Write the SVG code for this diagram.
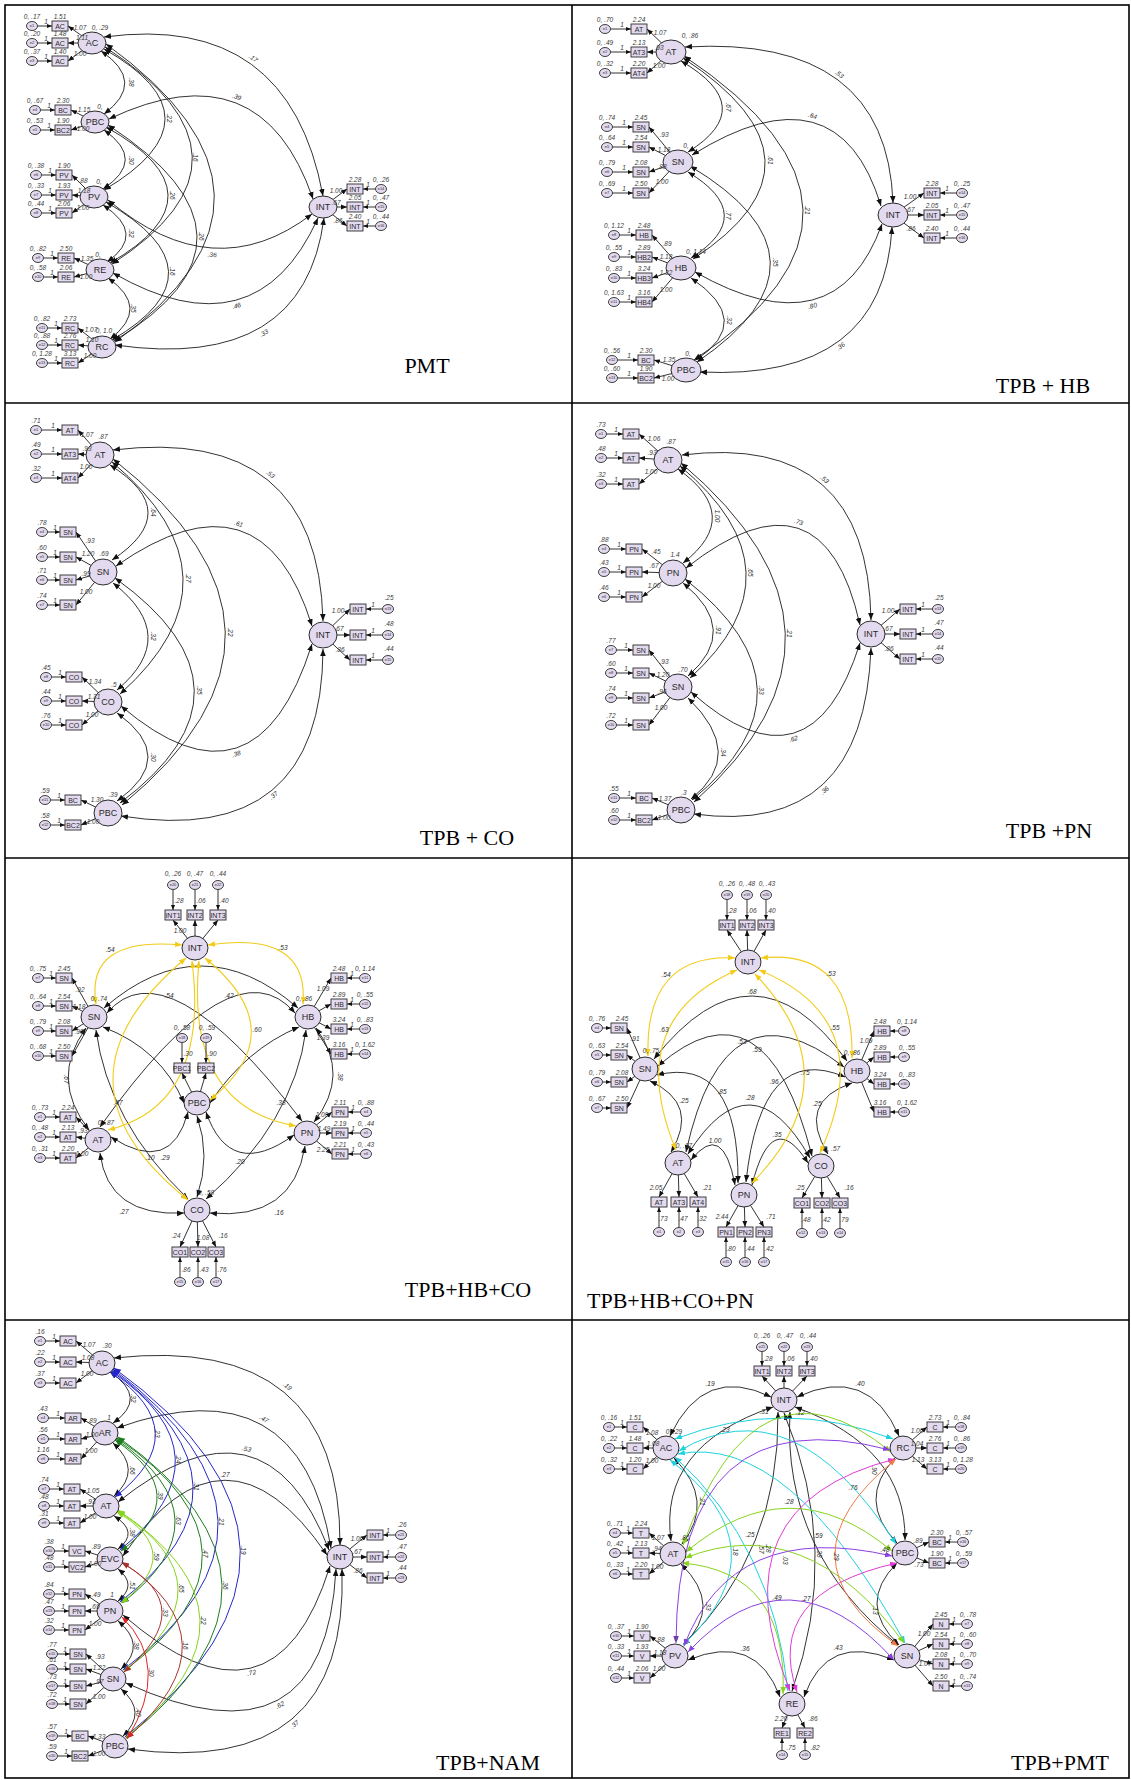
<svg xmlns="http://www.w3.org/2000/svg" width="1131" height="1780" viewBox="0 0 1131 1780">
<defs>
<style>
.f{fill:#e3daef;stroke:#2b2b2b;stroke-width:.9}
.lat{fill:#e3daef;stroke:#2b2b2b;stroke-width:1}
.k{fill:none;stroke:#1c1c1c;stroke-width:.9}
.fr{fill:none;stroke:#000;stroke-width:1.6}
.cy{fill:none;stroke:#f2cc18;stroke-width:1.1}
.cb{fill:none;stroke:#2626c8;stroke-width:1}
.cg{fill:none;stroke:#1e7d1e;stroke-width:1}
.cl{fill:none;stroke:#86d41c;stroke-width:1}
.cw{fill:none;stroke:#a8322e;stroke-width:1}
.cr{fill:none;stroke:#e02424;stroke-width:1}
.cc{fill:none;stroke:#1fd2e0;stroke-width:1}
.cp{fill:none;stroke:#8b3fe0;stroke-width:1}
.cm{fill:none;stroke:#e03ad8;stroke-width:1}
.co{fill:none;stroke:#f07a45;stroke-width:1}
text{font-family:"Liberation Sans",Arial,sans-serif;fill:#2a2a2a;text-anchor:middle}
.n{font-size:9px}
.o{font-size:7px}
.es{font-size:4px}
.v{font-size:6.5px;font-style:italic;fill:#3a3a3a}
.c{font-size:6.5px;font-style:italic;fill:#3a3a3a}
.t{font-family:"Liberation Serif","Times New Roman",serif;font-size:22px;fill:#000}
</style>
<marker id="m" viewBox="0 0 10 10" refX="10" refY="5" markerWidth="7" markerHeight="7" markerUnits="userSpaceOnUse" orient="auto-start-reverse"><path d="M0,1L10,5L0,9z" fill="#111"/></marker>
<marker id="a" viewBox="0 0 10 10" refX="10" refY="5" markerWidth="6" markerHeight="6" markerUnits="userSpaceOnUse" orient="auto-start-reverse"><path d="M0,1L10,5L0,9z" fill="#111"/></marker>
<marker id="s" viewBox="0 0 10 10" refX="10" refY="5" markerWidth="5" markerHeight="5" markerUnits="userSpaceOnUse" orient="auto-start-reverse"><path d="M0,1L10,5L0,9z" fill="#111"/></marker>
<marker id="my" viewBox="0 0 10 10" refX="10" refY="5" markerWidth="7" markerHeight="7" markerUnits="userSpaceOnUse" orient="auto-start-reverse"><path d="M0,1L10,5L0,9z" fill="#f2cc18"/></marker>
<marker id="mb" viewBox="0 0 10 10" refX="10" refY="5" markerWidth="7" markerHeight="7" markerUnits="userSpaceOnUse" orient="auto-start-reverse"><path d="M0,1L10,5L0,9z" fill="#2626c8"/></marker>
<marker id="mg" viewBox="0 0 10 10" refX="10" refY="5" markerWidth="7" markerHeight="7" markerUnits="userSpaceOnUse" orient="auto-start-reverse"><path d="M0,1L10,5L0,9z" fill="#1e7d1e"/></marker>
<marker id="ml" viewBox="0 0 10 10" refX="10" refY="5" markerWidth="7" markerHeight="7" markerUnits="userSpaceOnUse" orient="auto-start-reverse"><path d="M0,1L10,5L0,9z" fill="#86d41c"/></marker>
<marker id="mw" viewBox="0 0 10 10" refX="10" refY="5" markerWidth="7" markerHeight="7" markerUnits="userSpaceOnUse" orient="auto-start-reverse"><path d="M0,1L10,5L0,9z" fill="#a8322e"/></marker>
<marker id="mr" viewBox="0 0 10 10" refX="10" refY="5" markerWidth="7" markerHeight="7" markerUnits="userSpaceOnUse" orient="auto-start-reverse"><path d="M0,1L10,5L0,9z" fill="#e02424"/></marker>
<marker id="mc" viewBox="0 0 10 10" refX="10" refY="5" markerWidth="7" markerHeight="7" markerUnits="userSpaceOnUse" orient="auto-start-reverse"><path d="M0,1L10,5L0,9z" fill="#1fd2e0"/></marker>
<marker id="mp" viewBox="0 0 10 10" refX="10" refY="5" markerWidth="7" markerHeight="7" markerUnits="userSpaceOnUse" orient="auto-start-reverse"><path d="M0,1L10,5L0,9z" fill="#8b3fe0"/></marker>
<marker id="mm" viewBox="0 0 10 10" refX="10" refY="5" markerWidth="7" markerHeight="7" markerUnits="userSpaceOnUse" orient="auto-start-reverse"><path d="M0,1L10,5L0,9z" fill="#e03ad8"/></marker>
<marker id="mo" viewBox="0 0 10 10" refX="10" refY="5" markerWidth="7" markerHeight="7" markerUnits="userSpaceOnUse" orient="auto-start-reverse"><path d="M0,1L10,5L0,9z" fill="#f07a45"/></marker>
<g id="L22"><path class="k" d="M-16.5,0H-8" marker-end="url(#s)"/><ellipse class="f" cx="-22" cy="0" rx="5.5" ry="4.5"/><rect class="f" x="-8" y="-5" width="16" height="10"/></g>
<g id="L26"><path class="k" d="M-20.5,0H-8" marker-end="url(#s)"/><ellipse class="f" cx="-26" cy="0" rx="5.5" ry="4.5"/><rect class="f" x="-8" y="-5" width="16" height="10"/></g>
<g id="L28"><path class="k" d="M-22.5,0H-8" marker-end="url(#s)"/><ellipse class="f" cx="-28" cy="0" rx="5.5" ry="4.5"/><rect class="f" x="-8" y="-5" width="16" height="10"/></g>
<g id="L30"><path class="k" d="M-24.5,0H-8" marker-end="url(#s)"/><ellipse class="f" cx="-30" cy="0" rx="5.5" ry="4.5"/><rect class="f" x="-8" y="-5" width="16" height="10"/></g>
<g id="L34"><path class="k" d="M-28.5,0H-8" marker-end="url(#s)"/><ellipse class="f" cx="-34" cy="0" rx="5.5" ry="4.5"/><rect class="f" x="-8" y="-5" width="16" height="10"/></g>
<g id="R22"><path class="k" d="M16.5,0H8" marker-end="url(#s)"/><ellipse class="f" cx="22" cy="0" rx="5.5" ry="4.5"/><rect class="f" x="-8" y="-5" width="16" height="10"/></g>
<g id="R26"><path class="k" d="M20.5,0H8" marker-end="url(#s)"/><ellipse class="f" cx="26" cy="0" rx="5.5" ry="4.5"/><rect class="f" x="-8" y="-5" width="16" height="10"/></g>
<g id="R30"><path class="k" d="M24.5,0H8" marker-end="url(#s)"/><ellipse class="f" cx="30" cy="0" rx="5.5" ry="4.5"/><rect class="f" x="-8" y="-5" width="16" height="10"/></g>
<g id="U24"><path class="k" d="M0,-19.5V-5" marker-end="url(#s)"/><ellipse class="f" cx="0" cy="-24" rx="5.5" ry="4.5"/><rect class="f" x="-8" y="-5" width="16" height="10"/></g>
<g id="U30"><path class="k" d="M0,-25.5V-5" marker-end="url(#s)"/><ellipse class="f" cx="0" cy="-30" rx="5.5" ry="4.5"/><rect class="f" x="-8" y="-5" width="16" height="10"/></g>
<g id="D22"><path class="k" d="M0,17.5V5" marker-end="url(#s)"/><ellipse class="f" cx="0" cy="22" rx="5.5" ry="4.5"/><rect class="f" x="-8" y="-5" width="16" height="10"/></g>
<g id="D30"><path class="k" d="M0,25.5V5" marker-end="url(#s)"/><ellipse class="f" cx="0" cy="30" rx="5.5" ry="4.5"/><rect class="f" x="-8" y="-5" width="16" height="10"/></g>
</defs>
<rect width="1131" height="1780" fill="#fff"/>
<g id="frame">
<rect class="fr" x="5" y="5" width="1124" height="1773"/>
<path class="fr" d="M572,5V1778M5,403H1129M5,858H1129M5,1320H1129"/>
</g>

<!-- ============ CONNECTORS ============ -->
<g id="connectors">
<!-- P1 PMT -->
<g class="k" marker-end="url(#a)">
<path d="M92,43L68,26"/><path d="M92,43L68,43"/><path d="M92,43L68,61"/>
<path d="M95,122L71,110"/><path d="M95,122L71,130"/>
<path d="M94,197L72,175"/><path d="M94,197L72,195"/><path d="M94,197L72,213"/>
<path d="M100,270L74,258"/><path d="M100,270L74,277"/>
<path d="M102,347L78,328"/><path d="M102,347L78,345"/><path d="M102,347L78,363"/>
<path d="M323,207L347,189"/><path d="M323,207L347,207"/><path d="M323,207L347,226"/>
</g>
<g class="k" marker-start="url(#m)" marker-end="url(#m)">
<path d="M101,51Q147,82 104,114"/><path d="M104,130Q147,160 103,189"/><path d="M103,205Q147,234 107,262"/><path d="M108,278Q151,308 110,339"/>
<path d="M104,49Q226,118 104,190"/><path d="M106,127Q228,195 110,263"/><path d="M106,202Q228,272 112,340"/>
<path d="M105,47Q276,158 112,264"/><path d="M108,125Q283,239 114,341"/><path d="M106,44Q318,197 115,342"/>
<path d="M104,37Q289,12 323,196"/><path d="M109,119Q261,47 313,199"/><path d="M108,200Q214,289 312,214"/><path d="M113,273Q256,355 318,218"/><path d="M115,345Q304,372 324,218"/>
</g>
<g class="c">
<text transform="translate(129,82)rotate(90)">.38</text><text transform="translate(129,160)rotate(90)">.30</text><text transform="translate(129,233)rotate(90)">.32</text><text transform="translate(131,308)rotate(90)">.35</text>
<text transform="translate(167,118)rotate(90)">.22</text><text transform="translate(170,195)rotate(90)">.26</text><text transform="translate(170,271)rotate(90)">.16</text>
<text transform="translate(193,157)rotate(90)">.16</text><text transform="translate(199,236)rotate(90)">.26</text>
<text transform="translate(252,60)rotate(36)">.17</text><text transform="translate(236,99)rotate(21)">.39</text><text transform="translate(212,257)rotate(4)">.36</text><text transform="translate(237,308)rotate(-15)">.46</text><text transform="translate(265,335)rotate(-31)">.33</text>
</g>

<!-- P2 TPB+HB -->
<g class="k" marker-end="url(#a)">
<path d="M671,52L647,29"/><path d="M671,52L647,52"/><path d="M671,52L647,73"/>
<path d="M678,162L649,127"/><path d="M678,162L649,147"/><path d="M678,162L649,172"/><path d="M678,162L649,193"/>
<path d="M681,268L652,235"/><path d="M681,268L652,257"/><path d="M681,268L652,278"/><path d="M681,268L652,302"/>
<path d="M686,370L654,360"/><path d="M686,370L654,378"/>
<path d="M893,215L924,193"/><path d="M893,215L924,215"/><path d="M893,215L924,238"/>
</g>
<g class="k" marker-start="url(#m)" marker-end="url(#m)">
<path d="M681,61Q760,107 688,152"/><path d="M688,172Q759,215 691,258"/><path d="M691,278Q755,321 696,360"/>
<path d="M683,58Q842,162 693,259"/><path d="M690,166Q847,260 697,362"/><path d="M684,56Q917,212 694,360"/>
<path d="M685,47Q887,35 893,203"/><path d="M692,155Q838,64 881,206"/><path d="M695,272Q836,352 882,224"/><path d="M700,372Q884,381 892,227"/>
</g>
<g class="c">
<text transform="translate(726,107)rotate(90)">.67</text><text transform="translate(726,215)rotate(90)">.77</text><text transform="translate(727,320)rotate(90)">.32</text>
<text transform="translate(768,160)rotate(90)">.61</text><text transform="translate(773,262)rotate(90)">.35</text><text transform="translate(805,210)rotate(90)">.21</text>
<text transform="translate(838,76)rotate(37)">.53</text><text transform="translate(812,118)rotate(15)">.64</text><text transform="translate(813,308)rotate(-14)">.80</text><text transform="translate(842,348)rotate(-37)">.36</text>
</g>

<!-- P3 TPB+CO -->
<g class="k" marker-end="url(#a)">
<path d="M100,455L78,430"/><path d="M100,455L78,454"/><path d="M100,455L78,478"/>
<path d="M103,572L76,532"/><path d="M103,572L76,557"/><path d="M103,572L76,580"/><path d="M103,572L76,605"/>
<path d="M108,702L82,677"/><path d="M108,702L82,701"/><path d="M108,702L82,725"/>
<path d="M108,813L81,800"/><path d="M108,813L81,825"/>
<path d="M323,635L350,609"/><path d="M323,635L350,635"/><path d="M323,635L350,660"/>
</g>
<g class="k" marker-start="url(#m)" marker-end="url(#m)">
<path d="M110,465Q185,512 112,560"/><path d="M113,583Q181,636 117,690"/><path d="M117,713Q179,757 117,801"/>
<path d="M112,462Q250,578 120,694"/><path d="M115,578Q271,690 120,803"/><path d="M113,459Q333,632 122,805"/>
<path d="M113,450Q318,425 323,621"/><path d="M116,566Q262,464 312,626"/><path d="M121,706Q256,821 312,644"/><path d="M121,816Q322,848 323,649"/>
</g>
<g class="c">
<text transform="translate(151,512)rotate(90)">.64</text><text transform="translate(151,636)rotate(90)">.32</text><text transform="translate(151,757)rotate(90)">.30</text>
<text transform="translate(186,578)rotate(90)">.27</text><text transform="translate(197,690)rotate(90)">.35</text><text transform="translate(228,632)rotate(90)">.22</text>
<text transform="translate(269,476)rotate(39)">.53</text><text transform="translate(238,526)rotate(17)">.61</text><text transform="translate(237,756)rotate(-18)">.38</text><text transform="translate(275,797)rotate(-40)">.37</text>
</g>

<!-- P4 TPB+PN -->
<g class="k" marker-end="url(#a)">
<path d="M668,460L639,434"/><path d="M668,460L639,458"/><path d="M668,460L639,484"/>
<path d="M673,573L642,549"/><path d="M673,573L642,572"/><path d="M673,573L642,597"/>
<path d="M678,687L649,650"/><path d="M678,687L649,673"/><path d="M678,687L649,698"/><path d="M678,687L649,725"/>
<path d="M681,810L652,798"/><path d="M681,810L652,820"/>
<path d="M871,634L900,609"/><path d="M871,634L900,634"/><path d="M871,634L900,659"/>
</g>
<g class="k" marker-start="url(#m)" marker-end="url(#m)">
<path d="M678,469Q744,516 683,563"/><path d="M683,583Q741,630 688,676"/><path d="M688,698Q747,755 691,799"/>
<path d="M680,466Q807,572 690,678"/><path d="M685,579Q826,690 692,800"/><path d="M681,463Q883,634 694,802"/>
<path d="M682,455Q868,432 871,620"/><path d="M686,568Q823,460 860,625"/><path d="M691,692Q811,799 860,643"/><path d="M694,814Q864,837 871,648"/>
</g>
<g class="c">
<text transform="translate(715,516)rotate(90)">1.00</text><text transform="translate(716,630)rotate(90)">.91</text><text transform="translate(721,752)rotate(90)">.34</text>
<text transform="translate(748,572)rotate(90)">.65</text><text transform="translate(759,690)rotate(90)">.33</text><text transform="translate(787,633)rotate(90)">.21</text>
<text transform="translate(823,481)rotate(41)">.53</text><text transform="translate(798,524)rotate(18)">.73</text><text transform="translate(794,741)rotate(-16)">.62</text><text transform="translate(826,792)rotate(-43)">.36</text>
</g>

<!-- P5 TPB+HB+CO -->
<g class="k" marker-end="url(#a)">
<path d="M195,948L173,920"/><path d="M195,948L195,920"/><path d="M195,948L218,920"/>
<path d="M94,1017L72,978"/><path d="M94,1017L72,1006"/><path d="M94,1017L72,1031"/><path d="M94,1017L72,1056"/>
<path d="M308,1017L331,978"/><path d="M308,1017L331,1004"/><path d="M308,1017L331,1029"/><path d="M308,1017L331,1054"/>
<path d="M197,1103L182,1073"/><path d="M197,1103L206,1073"/>
<path d="M98,1140L76,1117"/><path d="M98,1140L76,1137"/><path d="M98,1140L76,1158"/>
<path d="M307,1133L332,1112"/><path d="M307,1133L332,1133"/><path d="M307,1133L332,1154"/>
<path d="M197,1210L180,1247"/><path d="M197,1210L198,1247"/><path d="M197,1210L216,1247"/>
</g>
<g class="k" marker-start="url(#m)" marker-end="url(#m)">
<path d="M104,1008Q201,924 298,1008"/><path d="M107,1013Q166,943 302,1121"/><path d="M100,1127Q233,940 295,1013"/>
<path d="M86,1028Q49,1079 89,1130"/><path d="M316,1028Q351,1075 314,1122"/>
<path d="M103,1027Q161,1049 184,1103"/><path d="M299,1027Q246,1049 210,1103"/>
<path d="M96,1030Q108,1122 188,1199"/><path d="M306,1030Q294,1122 206,1199"/>
<path d="M111,1137Q171,1176 188,1112"/><path d="M206,1112Q230,1181 294,1135"/>
<path d="M100,1153Q108,1217 184,1213"/><path d="M210,1213Q293,1221 305,1146"/><path d="M197,1116Q211,1156 197,1197"/>
</g>
<g class="cy" marker-start="url(#my)" marker-end="url(#my)">
<path d="M182,945Q85,936 96,1004"/><path d="M208,945Q309,930 303,1004"/>
<path d="M186,958Q39,1081 188,1200"/><path d="M205,958Q295,1031 210,1100"/>
<path d="M192,961Q210,1105 108,1130"/><path d="M199,961Q185,1107 296,1126"/>
</g>
<g class="c">
<text x="169" y="998">.54</text><text x="229" y="998">.42</text><text transform="translate(64,1079)rotate(90)">.67</text><text transform="translate(338,1076)rotate(90)">.38</text>
<text x="118" y="1105">.47</text><text x="281" y="1105">.38</text><text x="150" y="1160">.10</text><text x="165" y="1160">.29</text><text x="240" y="1164">.20</text><text x="124" y="1214">.27</text><text x="279" y="1215">.16</text>
<text x="110" y="952" fill="#e5be10">.54</text><text x="283" y="950" fill="#e5be10">.53</text><text x="257" y="1032" fill="#e5be10">.60</text>
</g>

<!-- P6 TPB+HB+CO+PN -->
<g class="k" marker-end="url(#a)">
<path d="M748,962L727,930"/><path d="M748,962L747,930"/><path d="M748,962L766,930"/>
<path d="M645,1069L627,1028"/><path d="M645,1069L627,1055"/><path d="M645,1069L627,1082"/><path d="M645,1069L627,1108"/>
<path d="M857,1071L874,1031"/><path d="M857,1071L874,1057"/><path d="M857,1071L874,1084"/><path d="M857,1071L874,1112"/>
<path d="M678,1163L659,1197"/><path d="M678,1163L679,1197"/><path d="M678,1163L698,1197"/>
<path d="M744,1195L726,1227"/><path d="M744,1195L745,1227"/><path d="M744,1195L764,1227"/>
<path d="M821,1166L802,1198"/><path d="M821,1166L822,1198"/><path d="M821,1166L840,1198"/>
</g>
<g class="k" marker-start="url(#m)" marker-end="url(#m)">
<path d="M654,1059Q754,932 847,1061"/><path d="M658,1066Q765,973 812,1156"/><path d="M844,1067Q725,975 686,1152"/>
<path d="M650,1081Q700,1104 671,1152"/><path d="M657,1075Q739,1055 738,1183"/><path d="M845,1077Q761,1041 746,1182"/>
<path d="M852,1083Q796,1102 828,1154"/><path d="M688,1154Q751,1054 810,1158"/><path d="M691,1160Q723,1120 735,1185"/><path d="M752,1185Q772,1106 808,1163"/>
</g>
<g class="cy" marker-start="url(#my)" marker-end="url(#my)">
<path d="M735,958Q645,953 648,1056"/><path d="M737,970Q622,1020 676,1150"/><path d="M761,958Q854,948 852,1058"/>
<path d="M759,970Q881,1019 820,1153"/><path d="M755,974Q855,1078 752,1183"/>
</g>
<g class="c">
<text x="752" y="994">.68</text><text x="742" y="1044">.53</text><text x="757" y="1052">.59</text><text x="684" y="1103">.25</text><text x="722" y="1094">.85</text><text x="774" y="1084">.96</text>
<text x="817" y="1106">.25</text><text x="750" y="1100">.28</text><text x="715" y="1143">1.00</text><text x="777" y="1137">.35</text>
<text x="666" y="977" fill="#e5be10">.54</text><text x="664" y="1032" fill="#e5be10">.63</text><text x="831" y="976" fill="#e5be10">.53</text><text x="835" y="1030" fill="#e5be10">.55</text><text x="805" y="1075" fill="#e5be10">.75</text>
</g>

<!-- P7 TPB+NAM -->
<g class="k" marker-end="url(#a)">
<path d="M102,1363L76,1341"/><path d="M102,1363L76,1362"/><path d="M102,1363L76,1383"/>
<path d="M105,1433L81,1418"/><path d="M105,1433L81,1439"/><path d="M105,1433L81,1459"/>
<path d="M106,1506L80,1489"/><path d="M106,1506L80,1506"/><path d="M106,1506L80,1523"/>
<path d="M110,1559L85,1551"/><path d="M110,1559L85,1567"/>
<path d="M110,1611L85,1594"/><path d="M110,1611L85,1611"/><path d="M110,1611L85,1630"/>
<path d="M113,1679L86,1654"/><path d="M113,1679L86,1669"/><path d="M113,1679L86,1686"/><path d="M113,1679L86,1704"/>
<path d="M115,1746L88,1736"/><path d="M115,1746L88,1756"/>
<path d="M340,1557L367,1535"/><path d="M340,1557L367,1557"/><path d="M340,1557L367,1578"/>
</g>
<g class="k" marker-start="url(#m)" marker-end="url(#m)">
<path d="M110,1372Q149,1398 113,1423"/><path d="M113,1443Q143,1470 114,1496"/><path d="M114,1516Q140,1532 118,1549"/>
<path d="M118,1569Q138,1585 118,1601"/><path d="M118,1621Q147,1645 121,1669"/><path d="M121,1689Q148,1712 123,1736"/>
<path d="M114,1358Q341,1333 340,1545"/><path d="M117,1428Q300,1362 331,1548"/><path d="M118,1502Q265,1384 329,1550"/>
<path d="M123,1556Q225,1405 327,1555"/><path d="M123,1615Q274,1746 330,1566"/><path d="M126,1683Q325,1774 336,1569"/><path d="M128,1749Q349,1779 342,1569"/>
</g>
<g class="cb" marker-start="url(#mb)" marker-end="url(#mb)">
<path d="M110,1372Q198,1432 115,1497"/><path d="M111,1371Q235,1456 120,1550"/><path d="M112,1370Q270,1486 120,1602"/><path d="M113,1369Q318,1523 123,1670"/><path d="M114,1368Q361,1548 125,1737"/>
</g>
<g class="cg" marker-start="url(#mg)" marker-end="url(#mg)">
<path d="M115,1440Q196,1495 121,1551"/><path d="M116,1439Q231,1519 122,1603"/><path d="M117,1438Q284,1552 124,1671"/><path d="M118,1437Q322,1583 126,1738"/>
</g>
<g class="cl" marker-start="url(#ml)" marker-end="url(#ml)">
<path d="M117,1512Q187,1553 121,1603"/><path d="M118,1511Q235,1585 124,1671"/><path d="M118,1510Q278,1617 126,1737"/>
</g>
<g class="cw" marker-start="url(#mw)" marker-end="url(#mw)">
<path d="M122,1563Q201,1607 124,1672"/><path d="M122,1562Q240,1640 127,1738"/>
</g>
<g class="cr" marker-start="url(#mr)" marker-end="url(#mr)">
<path d="M122,1617Q172,1666 127,1739"/>
</g>
<g class="c">
<text transform="translate(131,1398)rotate(90)">.32</text><text transform="translate(130,1470)rotate(90)">.66</text><text transform="translate(130,1532)rotate(90)">.38</text>
<text transform="translate(130,1585)rotate(90)">.51</text><text transform="translate(134,1645)rotate(90)">.38</text><text transform="translate(136,1712)rotate(90)">.40</text>
<text transform="translate(155,1433)rotate(90)" fill="#2626c8">.23</text><text transform="translate(176,1459)rotate(90)" fill="#2626c8">.24</text><text transform="translate(194,1486)rotate(90)" fill="#2626c8">.31</text><text transform="translate(219,1521)rotate(90)" fill="#2626c8">.21</text><text transform="translate(241,1550)rotate(90)" fill="#8b3fe0">.19</text>
<text transform="translate(158,1495)rotate(90)" fill="#3cb83c">.39</text><text transform="translate(176,1520)rotate(90)" fill="#1e7d1e">.63</text><text transform="translate(203,1553)rotate(90)" fill="#3cb83c">.47</text><text transform="translate(223,1585)rotate(90)" fill="#3cb83c">.36</text>
<text transform="translate(154,1556)rotate(90)" fill="#6aa818">.59</text><text transform="translate(179,1588)rotate(90)" fill="#6aa818">.65</text><text transform="translate(201,1620)rotate(90)" fill="#6aa818">.22</text>
<text transform="translate(163,1612)rotate(90)" fill="#a8322e">.33</text><text transform="translate(183,1645)rotate(90)" fill="#a8322e">.16</text><text transform="translate(149,1672)rotate(90)" fill="#e02424">.30</text>
<text transform="translate(286,1388)rotate(40)">.19</text><text transform="translate(263,1421)rotate(29)">.47</text><text transform="translate(246,1451)rotate(13)">.53</text><text transform="translate(225,1477)">.27</text>
<text transform="translate(252,1675)rotate(-13)">.72</text><text transform="translate(281,1707)rotate(-28)">.62</text><text transform="translate(296,1726)rotate(-40)">.37</text>
</g>

<!-- P8 TPB+PMT -->
<g class="k" marker-end="url(#a)">
<path d="M784,1400L762,1376"/><path d="M784,1400L784,1376"/><path d="M784,1400L807,1376"/>
<path d="M666,1448L643,1427"/><path d="M666,1448L643,1448"/><path d="M666,1448L643,1469"/>
<path d="M903,1448L927,1427"/><path d="M903,1448L927,1448"/><path d="M903,1448L927,1469"/>
<path d="M673,1554L649,1533"/><path d="M673,1554L649,1553"/><path d="M673,1554L649,1574"/>
<path d="M905,1553L929,1542"/><path d="M905,1553L929,1563"/>
<path d="M675,1656L650,1636"/><path d="M675,1656L650,1656"/><path d="M675,1656L650,1678"/>
<path d="M907,1656L933,1624"/><path d="M907,1656L933,1644"/><path d="M907,1656L933,1664"/><path d="M907,1656L933,1686"/>
<path d="M792,1704L782,1728"/><path d="M792,1704L805,1728"/>
</g>
<g class="k" marker-start="url(#m)" marker-end="url(#m)">
<path d="M771,1397Q704,1364 670,1436"/><path d="M797,1397Q868,1364 899,1436"/>
<path d="M773,1407Q658,1446 671,1541"/><path d="M795,1407Q906,1447 905,1540"/>
<path d="M674,1458Q716,1501 682,1544"/><path d="M895,1458Q856,1500 897,1543"/>
<path d="M681,1564Q724,1606 683,1645"/><path d="M897,1563Q856,1604 899,1645"/>
<path d="M688,1660Q756,1632 780,1697"/><path d="M894,1660Q827,1632 804,1697"/>
<path d="M778,1412Q780,1552 683,1645"/><path d="M790,1412Q782,1552 898,1645"/><path d="M784,1413Q842,1552 792,1691"/>
</g>
<g class="cc" marker-start="url(#mc)" marker-end="url(#mc)">
<path d="M675,1439Q784,1397 893,1439"/><path d="M679,1451Q793,1383 896,1544"/><path d="M678,1454Q789,1432 905,1643"/>
<path d="M675,1457Q773,1546 788,1691"/><path d="M670,1460Q786,1548 683,1645"/>
</g>
<g class="cl" marker-start="url(#ml)" marker-end="url(#ml)">
<path d="M683,1545Q757,1342 891,1452"/><path d="M686,1552Q789,1465 892,1551"/><path d="M685,1558Q806,1510 904,1643"/><path d="M682,1563Q788,1572 783,1694"/>
</g>
<g class="cp" marker-start="url(#mp)" marker-end="url(#mp)">
<path d="M676,1643Q677,1394 890,1450"/><path d="M684,1646Q732,1519 892,1556"/><path d="M688,1652Q789,1544 894,1660"/>
</g>
<g class="cm" marker-start="url(#mm)" marker-end="url(#mm)">
<path d="M790,1691Q714,1505 895,1459"/><path d="M797,1692Q763,1593 897,1563"/>
</g>
<g class="co" marker-start="url(#mo)" marker-end="url(#mo)">
<path d="M896,1459Q773,1558 898,1646"/>
</g>
<g class="c">
<text x="710" y="1386">.19</text><text x="860" y="1386">.40</text><text transform="translate(700,1501)rotate(90)">.21</text><text transform="translate(706,1606)rotate(90)">.33</text>
<text x="745" y="1651">.36</text><text x="838" y="1650">.43</text><text transform="translate(759,1549)rotate(90)">.57</text><text transform="translate(817,1553)rotate(90)">.38</text><text transform="translate(872,1470)rotate(90)">.90</text><text transform="translate(873,1610)rotate(90)">.13</text>
<text x="885" y="1552">.48</text>
<text x="800" y="1415" fill="#18b8c6">.12</text><text x="853" y="1490" fill="#18b8c6">.76</text><text transform="translate(733,1551)rotate(90)" fill="#18b8c6">.18</text><text transform="translate(783,1560)rotate(90)" fill="#18b8c6">.03</text>
<text x="764" y="1414" fill="#6aa818">.31</text><text x="789" y="1504" fill="#6aa818">.28</text><text x="818" y="1538" fill="#6aa818">.59</text><text x="777" y="1600" fill="#6aa818">.49</text>
<text x="725" y="1432" fill="#6a3ad0">.23</text><text x="750" y="1537" fill="#6a3ad0">.25</text>
<text transform="translate(766,1548)rotate(90)" fill="#d030c8">.28</text><text x="806" y="1601" fill="#d030c8">.27</text>
<text transform="translate(834,1556)rotate(90)" fill="#e86a30">.29</text>
</g>
</g>

<!-- ============ NODES ============ -->
<!-- P1 PMT -->
<g id="p1-AC"><ellipse class="lat" cx="92" cy="43" rx="14" ry="11"/><text class="n" x="92" y="46">AC</text>
<use href="#L28" x="60" y="26"/><use href="#L28" x="60" y="43"/><use href="#L28" x="60" y="61"/>
<text class="o"><tspan x="60" y="28.5">AC</tspan><tspan x="60" y="45.5">AC</tspan><tspan x="60" y="63.5">AC</tspan></text>
<text class="es"><tspan x="32" y="27.4">e1</tspan><tspan x="32" y="44.4">e2</tspan><tspan x="32" y="62.4">e3</tspan></text>
<text class="v"><tspan x="32" y="19">0, .17</tspan><tspan x="60" y="19">1.51</tspan><tspan x="46" y="24">1</tspan><tspan x="32" y="36">0, .20</tspan><tspan x="60" y="36">1.48</tspan><tspan x="46" y="41">1</tspan><tspan x="32" y="54">0, .37</tspan><tspan x="60" y="54">1.40</tspan><tspan x="46" y="59">1</tspan><tspan x="80" y="30">1.07</tspan><tspan x="82" y="40">1.11</tspan><tspan x="80" y="56">1.00</tspan><tspan x="100" y="30">0, .29</tspan></text></g>
<g id="p1-PBC"><ellipse class="lat" cx="95" cy="122" rx="14" ry="11"/><text class="n" x="95" y="125">PBC</text>
<use href="#L28" x="63" y="110"/><use href="#L28" x="63" y="130"/>
<text class="o"><tspan x="63" y="112.5">BC</tspan><tspan x="63" y="132.5">BC2</tspan></text>
<text class="es"><tspan x="35" y="111.4">e4</tspan><tspan x="35" y="131.4">e5</tspan></text>
<text class="v"><tspan x="35" y="103">0, .67</tspan><tspan x="63" y="103">2.30</tspan><tspan x="49" y="108">1</tspan><tspan x="35" y="123">0, .53</tspan><tspan x="63" y="123">1.90</tspan><tspan x="49" y="128">1</tspan><tspan x="84" y="112">1.15</tspan><tspan x="83" y="131">1.00</tspan><tspan x="100" y="109">0,</tspan></text></g>
<g id="p1-PV"><ellipse class="lat" cx="94" cy="197" rx="14" ry="11"/><text class="n" x="94" y="200">PV</text>
<use href="#L28" x="64" y="175"/><use href="#L28" x="64" y="195"/><use href="#L28" x="64" y="213"/>
<text class="o"><tspan x="64" y="177.5">PV</tspan><tspan x="64" y="197.5">PV</tspan><tspan x="64" y="215.5">PV</tspan></text>
<text class="es"><tspan x="36" y="176.4">e6</tspan><tspan x="36" y="196.4">e7</tspan><tspan x="36" y="214.4">e8</tspan></text>
<text class="v"><tspan x="36" y="168">0, .38</tspan><tspan x="64" y="168">1.90</tspan><tspan x="50" y="173">1</tspan><tspan x="36" y="188">0, .33</tspan><tspan x="64" y="188">1.93</tspan><tspan x="50" y="193">1</tspan><tspan x="36" y="206">0, .44</tspan><tspan x="64" y="206">2.06</tspan><tspan x="50" y="211">1</tspan><tspan x="83" y="183">.88</tspan><tspan x="84" y="193">1.18</tspan><tspan x="83" y="210">1.00</tspan><tspan x="99" y="184">0,</tspan></text></g>
<g id="p1-RE"><ellipse class="lat" cx="100" cy="270" rx="14" ry="11"/><text class="n" x="100" y="273">RE</text>
<use href="#L28" x="66" y="258"/><use href="#L28" x="66" y="277"/>
<text class="o"><tspan x="66" y="260.5">RE</tspan><tspan x="66" y="279.5">RE</tspan></text>
<text class="es"><tspan x="38" y="259.4">e9</tspan><tspan x="38" y="278.4">e10</tspan></text>
<text class="v"><tspan x="38" y="251">0, .82</tspan><tspan x="66" y="251">2.50</tspan><tspan x="52" y="256">1</tspan><tspan x="38" y="270">0, .58</tspan><tspan x="66" y="270">2.06</tspan><tspan x="52" y="275">1</tspan><tspan x="87" y="261">1.35</tspan><tspan x="86" y="279">1.00</tspan><tspan x="98" y="257">0,</tspan></text></g>
<g id="p1-RC"><ellipse class="lat" cx="102" cy="347" rx="14" ry="11"/><text class="n" x="102" y="350">RC</text>
<use href="#L28" x="70" y="328"/><use href="#L28" x="70" y="345"/><use href="#L28" x="70" y="363"/>
<text class="o"><tspan x="70" y="330.5">RC</tspan><tspan x="70" y="347.5">RC</tspan><tspan x="70" y="365.5">RC</tspan></text>
<text class="es"><tspan x="42" y="329.4">e11</tspan><tspan x="42" y="346.4">e12</tspan><tspan x="42" y="364.4">e13</tspan></text>
<text class="v"><tspan x="42" y="321">0, .82</tspan><tspan x="70" y="321">2.73</tspan><tspan x="56" y="326">1</tspan><tspan x="42" y="338">0, .88</tspan><tspan x="70" y="338">2.76</tspan><tspan x="56" y="343">1</tspan><tspan x="42" y="356">0, 1.28</tspan><tspan x="70" y="356">3.13</tspan><tspan x="56" y="361">1</tspan><tspan x="91" y="332">1.07</tspan><tspan x="92" y="342">1.10</tspan><tspan x="90" y="358">1.00</tspan><tspan x="104" y="333">0, 1.0</tspan></text></g>
<g id="p1-INT"><ellipse class="lat" cx="323" cy="207" rx="14" ry="11"/><text class="n" x="323" y="210">INT</text>
<use href="#R26" x="355" y="189"/><use href="#R26" x="355" y="207"/><use href="#R26" x="355" y="226"/>
<text class="o"><tspan x="355" y="191.5">INT</tspan><tspan x="355" y="209.5">INT</tspan><tspan x="355" y="228.5">INT</tspan></text>
<text class="es"><tspan x="381" y="190.4">e14</tspan><tspan x="381" y="208.4">e15</tspan><tspan x="381" y="227.4">e16</tspan></text>
<text class="v"><tspan x="355" y="182">2.28</tspan><tspan x="381" y="182">0, .26</tspan><tspan x="368" y="187">1</tspan><tspan x="355" y="200">2.05</tspan><tspan x="381" y="200">0, .47</tspan><tspan x="368" y="205">1</tspan><tspan x="355" y="219">2.40</tspan><tspan x="381" y="219">0, .44</tspan><tspan x="368" y="224">1</tspan><tspan x="336" y="193">1.00</tspan><tspan x="336" y="205">.67</tspan><tspan x="338" y="223">.86</tspan></text></g>
<text class="t" x="427" y="373">PMT</text>

<!-- P2 TPB+HB -->
<g id="p2-AT"><ellipse class="lat" cx="671" cy="52" rx="15" ry="12"/><text class="n" x="671" y="55">AT</text>
<use href="#L34" x="639" y="29"/><use href="#L34" x="639" y="52"/><use href="#L34" x="639" y="73"/>
<text class="o"><tspan x="639" y="31.5">AT</tspan><tspan x="639" y="54.5">AT3</tspan><tspan x="639" y="75.5">AT4</tspan></text>
<text class="es"><tspan x="605" y="30.4">e1</tspan><tspan x="605" y="53.4">e2</tspan><tspan x="605" y="74.4">e3</tspan></text>
<text class="v"><tspan x="605" y="22">0, .70</tspan><tspan x="639" y="22">2.24</tspan><tspan x="622" y="27">1</tspan><tspan x="605" y="45">0, .49</tspan><tspan x="639" y="45">2.13</tspan><tspan x="622" y="50">1</tspan><tspan x="605" y="66">0, .32</tspan><tspan x="639" y="66">2.20</tspan><tspan x="622" y="71">1</tspan><tspan x="660" y="35">1.07</tspan><tspan x="659" y="50">.93</tspan><tspan x="659" y="68">1.00</tspan><tspan x="690" y="38">0, .86</tspan></text></g>
<g id="p2-SN"><ellipse class="lat" cx="678" cy="162" rx="15" ry="12"/><text class="n" x="678" y="165">SN</text>
<use href="#L34" x="641" y="127"/><use href="#L34" x="641" y="147"/><use href="#L34" x="641" y="172"/><use href="#L34" x="641" y="193"/>
<text class="o"><tspan x="641" y="129.5">SN</tspan><tspan x="641" y="149.5">SN</tspan><tspan x="641" y="174.5">SN</tspan><tspan x="641" y="195.5">SN</tspan></text>
<text class="es"><tspan x="607" y="128.4">e4</tspan><tspan x="607" y="148.4">e5</tspan><tspan x="607" y="173.4">e6</tspan><tspan x="607" y="194.4">e7</tspan></text>
<text class="v"><tspan x="607" y="120">0, .74</tspan><tspan x="641" y="120">2.45</tspan><tspan x="624" y="125">1</tspan><tspan x="607" y="140">0, .64</tspan><tspan x="641" y="140">2.54</tspan><tspan x="624" y="145">1</tspan><tspan x="607" y="165">0, .79</tspan><tspan x="641" y="165">2.08</tspan><tspan x="624" y="170">1</tspan><tspan x="607" y="186">0, .69</tspan><tspan x="641" y="186">2.50</tspan><tspan x="624" y="191">1</tspan><tspan x="664" y="137">.93</tspan><tspan x="664" y="152">1.18</tspan><tspan x="662" y="169">.88</tspan><tspan x="662" y="184">1.00</tspan><tspan x="686" y="148">0,</tspan></text></g>
<g id="p2-HB"><ellipse class="lat" cx="681" cy="268" rx="15" ry="12"/><text class="n" x="681" y="271">HB</text>
<use href="#L30" x="644" y="235"/><use href="#L30" x="644" y="257"/><use href="#L30" x="644" y="278"/><use href="#L30" x="644" y="302"/>
<text class="o"><tspan x="644" y="237.5">HB</tspan><tspan x="644" y="259.5">HB2</tspan><tspan x="644" y="280.5">HB3</tspan><tspan x="644" y="304.5">HB4</tspan></text>
<text class="es"><tspan x="614" y="236.4">e8</tspan><tspan x="614" y="258.4">e9</tspan><tspan x="614" y="279.4">e10</tspan><tspan x="614" y="303.4">e11</tspan></text>
<text class="v"><tspan x="614" y="228">0, 1.12</tspan><tspan x="644" y="228">2.48</tspan><tspan x="629" y="233">1</tspan><tspan x="614" y="250">0, .55</tspan><tspan x="644" y="250">2.89</tspan><tspan x="629" y="255">1</tspan><tspan x="614" y="271">0, .83</tspan><tspan x="644" y="271">3.24</tspan><tspan x="629" y="276">1</tspan><tspan x="614" y="295">0, 1.63</tspan><tspan x="644" y="295">3.16</tspan><tspan x="629" y="300">1</tspan><tspan x="667" y="246">.89</tspan><tspan x="666" y="259">1.18</tspan><tspan x="666" y="275">1.32</tspan><tspan x="666" y="292">1.00</tspan><tspan x="696" y="254">0, 1.14</tspan></text></g>
<g id="p2-PBC"><ellipse class="lat" cx="686" cy="370" rx="15" ry="12"/><text class="n" x="686" y="373">PBC</text>
<use href="#L34" x="646" y="360"/><use href="#L34" x="646" y="378"/>
<text class="o"><tspan x="646" y="362.5">BC</tspan><tspan x="646" y="380.5">BC2</tspan></text>
<text class="es"><tspan x="612" y="361.4">e12</tspan><tspan x="612" y="379.4">e13</tspan></text>
<text class="v"><tspan x="612" y="353">0, .56</tspan><tspan x="646" y="353">2.30</tspan><tspan x="629" y="358">1</tspan><tspan x="612" y="371">0, .60</tspan><tspan x="646" y="371">1.90</tspan><tspan x="629" y="376">1</tspan><tspan x="669" y="362">1.35</tspan><tspan x="668" y="381">1.00</tspan><tspan x="688" y="356">0,</tspan></text></g>
<g id="p2-INT"><ellipse class="lat" cx="893" cy="215" rx="15" ry="12"/><text class="n" x="893" y="218">INT</text>
<use href="#R30" x="932" y="193"/><use href="#R30" x="932" y="215"/><use href="#R30" x="932" y="238"/>
<text class="o"><tspan x="932" y="195.5">INT</tspan><tspan x="932" y="217.5">INT</tspan><tspan x="932" y="240.5">INT</tspan></text>
<text class="es"><tspan x="962" y="194.4">e14</tspan><tspan x="962" y="216.4">e15</tspan><tspan x="962" y="239.4">e16</tspan></text>
<text class="v"><tspan x="932" y="186">2.28</tspan><tspan x="962" y="186">0, .25</tspan><tspan x="947" y="191">1</tspan><tspan x="932" y="208">2.05</tspan><tspan x="962" y="208">0, .47</tspan><tspan x="947" y="213">1</tspan><tspan x="932" y="231">2.40</tspan><tspan x="962" y="231">0, .44</tspan><tspan x="947" y="236">1</tspan><tspan x="910" y="199">1.00</tspan><tspan x="910" y="212">.67</tspan><tspan x="911" y="231">.86</tspan></text></g>
<text class="t" x="1043" y="393">TPB + HB</text>

<!-- P3 TPB+CO -->
<g id="p3-AT"><ellipse class="lat" cx="100" cy="455" rx="14" ry="13"/><text class="n" x="100" y="458">AT</text>
<use href="#L34" x="70" y="430"/><use href="#L34" x="70" y="454"/><use href="#L34" x="70" y="478"/>
<text class="o"><tspan x="70" y="432.5">AT</tspan><tspan x="70" y="456.5">AT3</tspan><tspan x="70" y="480.5">AT4</tspan></text>
<text class="es"><tspan x="36" y="431.4">e1</tspan><tspan x="36" y="455.4">e2</tspan><tspan x="36" y="479.4">e3</tspan></text>
<text class="v"><tspan x="36" y="423">.71</tspan><tspan x="53" y="428">1</tspan><tspan x="36" y="447">.49</tspan><tspan x="53" y="452">1</tspan><tspan x="36" y="471">.32</tspan><tspan x="53" y="476">1</tspan><tspan x="87" y="437">1.07</tspan><tspan x="87" y="451">.93</tspan><tspan x="86" y="469">1.00</tspan><tspan x="103" y="439">.87</tspan></text></g>
<g id="p3-SN"><ellipse class="lat" cx="103" cy="572" rx="14" ry="13"/><text class="n" x="103" y="575">SN</text>
<use href="#L26" x="68" y="532"/><use href="#L26" x="68" y="557"/><use href="#L26" x="68" y="580"/><use href="#L26" x="68" y="605"/>
<text class="o"><tspan x="68" y="534.5">SN</tspan><tspan x="68" y="559.5">SN</tspan><tspan x="68" y="582.5">SN</tspan><tspan x="68" y="607.5">SN</tspan></text>
<text class="es"><tspan x="42" y="533.4">e4</tspan><tspan x="42" y="558.4">e5</tspan><tspan x="42" y="581.4">e6</tspan><tspan x="42" y="606.4">e7</tspan></text>
<text class="v"><tspan x="42" y="525">.78</tspan><tspan x="55" y="530">1</tspan><tspan x="42" y="550">.60</tspan><tspan x="55" y="555">1</tspan><tspan x="42" y="573">.71</tspan><tspan x="55" y="578">1</tspan><tspan x="42" y="598">.74</tspan><tspan x="55" y="603">1</tspan><tspan x="90" y="543">.93</tspan><tspan x="88" y="556">1.20</tspan><tspan x="86" y="576">.99</tspan><tspan x="86" y="594">1.00</tspan><tspan x="104" y="556">.69</tspan></text></g>
<g id="p3-CO"><ellipse class="lat" cx="108" cy="702" rx="14" ry="13"/><text class="n" x="108" y="705">CO</text>
<use href="#L28" x="74" y="677"/><use href="#L28" x="74" y="701"/><use href="#L28" x="74" y="725"/>
<text class="o"><tspan x="74" y="679.5">CO</tspan><tspan x="74" y="703.5">CO</tspan><tspan x="74" y="727.5">CO</tspan></text>
<text class="es"><tspan x="46" y="678.4">e8</tspan><tspan x="46" y="702.4">e9</tspan><tspan x="46" y="726.4">e10</tspan></text>
<text class="v"><tspan x="46" y="670">.45</tspan><tspan x="60" y="675">1</tspan><tspan x="46" y="694">.44</tspan><tspan x="60" y="699">1</tspan><tspan x="46" y="718">.76</tspan><tspan x="60" y="723">1</tspan><tspan x="95" y="684">1.34</tspan><tspan x="94" y="699">1.31</tspan><tspan x="92" y="717">1.00</tspan><tspan x="114" y="687">.5</tspan></text></g>
<g id="p3-PBC"><ellipse class="lat" cx="108" cy="813" rx="14" ry="13"/><text class="n" x="108" y="816">PBC</text>
<use href="#L28" x="73" y="800"/><use href="#L28" x="73" y="825"/>
<text class="o"><tspan x="73" y="802.5">BC</tspan><tspan x="73" y="827.5">BC2</tspan></text>
<text class="es"><tspan x="45" y="801.4">e11</tspan><tspan x="45" y="826.4">e12</tspan></text>
<text class="v"><tspan x="45" y="793">.59</tspan><tspan x="59" y="798">1</tspan><tspan x="45" y="818">.58</tspan><tspan x="59" y="823">1</tspan><tspan x="97" y="802">1.30</tspan><tspan x="93" y="824">1.00</tspan><tspan x="113" y="797">.39</tspan></text></g>
<g id="p3-INT"><ellipse class="lat" cx="323" cy="635" rx="14" ry="13"/><text class="n" x="323" y="638">INT</text>
<use href="#R30" x="358" y="609"/><use href="#R30" x="358" y="635"/><use href="#R30" x="358" y="660"/>
<text class="o"><tspan x="358" y="611.5">INT</tspan><tspan x="358" y="637.5">INT</tspan><tspan x="358" y="662.5">INT</tspan></text>
<text class="es"><tspan x="388" y="610.4">e13</tspan><tspan x="388" y="636.4">e14</tspan><tspan x="388" y="661.4">e15</tspan></text>
<text class="v"><tspan x="389" y="600">.25</tspan><tspan x="373" y="607">1</tspan><tspan x="389" y="626">.48</tspan><tspan x="373" y="633">1</tspan><tspan x="389" y="651">.44</tspan><tspan x="373" y="658">1</tspan><tspan x="338" y="613">1.00</tspan><tspan x="339" y="631">.67</tspan><tspan x="340" y="652">.86</tspan></text></g>
<text class="t" x="467" y="845">TPB + CO</text>

<!-- P4 TPB+PN -->
<g id="p4-AT"><ellipse class="lat" cx="668" cy="460" rx="14" ry="13"/><text class="n" x="668" y="463">AT</text>
<use href="#L30" x="631" y="434"/><use href="#L30" x="631" y="458"/><use href="#L30" x="631" y="484"/>
<text class="o"><tspan x="631" y="436.5">AT</tspan><tspan x="631" y="460.5">AT</tspan><tspan x="631" y="486.5">AT</tspan></text>
<text class="es"><tspan x="601" y="435.4">e1</tspan><tspan x="601" y="459.4">e2</tspan><tspan x="601" y="485.4">e3</tspan></text>
<text class="v"><tspan x="601" y="427">.73</tspan><tspan x="616" y="432">1</tspan><tspan x="601" y="451">.48</tspan><tspan x="616" y="456">1</tspan><tspan x="601" y="477">.32</tspan><tspan x="616" y="482">1</tspan><tspan x="654" y="441">1.06</tspan><tspan x="652" y="455">.93</tspan><tspan x="651" y="474">1.00</tspan><tspan x="671" y="444">.87</tspan></text></g>
<g id="p4-PN"><ellipse class="lat" cx="673" cy="573" rx="14" ry="13"/><text class="n" x="673" y="576">PN</text>
<use href="#L30" x="634" y="549"/><use href="#L30" x="634" y="572"/><use href="#L30" x="634" y="597"/>
<text class="o"><tspan x="634" y="551.5">PN</tspan><tspan x="634" y="574.5">PN</tspan><tspan x="634" y="599.5">PN</tspan></text>
<text class="es"><tspan x="604" y="550.4">e4</tspan><tspan x="604" y="573.4">e5</tspan><tspan x="604" y="598.4">e6</tspan></text>
<text class="v"><tspan x="604" y="542">.88</tspan><tspan x="619" y="547">1</tspan><tspan x="604" y="565">.43</tspan><tspan x="619" y="570">1</tspan><tspan x="604" y="590">.46</tspan><tspan x="619" y="595">1</tspan><tspan x="656" y="554">.45</tspan><tspan x="654" y="568">.67</tspan><tspan x="654" y="588">1.00</tspan><tspan x="675" y="557">1.4</tspan></text></g>
<g id="p4-SN"><ellipse class="lat" cx="678" cy="687" rx="14" ry="13"/><text class="n" x="678" y="690">SN</text>
<use href="#L30" x="641" y="650"/><use href="#L30" x="641" y="673"/><use href="#L30" x="641" y="698"/><use href="#L30" x="641" y="725"/>
<text class="o"><tspan x="641" y="652.5">SN</tspan><tspan x="641" y="675.5">SN</tspan><tspan x="641" y="700.5">SN</tspan><tspan x="641" y="727.5">SN</tspan></text>
<text class="es"><tspan x="611" y="651.4">e7</tspan><tspan x="611" y="674.4">e8</tspan><tspan x="611" y="699.4">e9</tspan><tspan x="611" y="726.4">e10</tspan></text>
<text class="v"><tspan x="611" y="643">.77</tspan><tspan x="626" y="648">1</tspan><tspan x="611" y="666">.60</tspan><tspan x="626" y="671">1</tspan><tspan x="611" y="691">.74</tspan><tspan x="626" y="696">1</tspan><tspan x="611" y="718">.72</tspan><tspan x="626" y="723">1</tspan><tspan x="664" y="664">.93</tspan><tspan x="663" y="677">1.20</tspan><tspan x="662" y="694">.96</tspan><tspan x="661" y="710">1.00</tspan><tspan x="683" y="672">.70</tspan></text></g>
<g id="p4-PBC"><ellipse class="lat" cx="681" cy="810" rx="14" ry="13"/><text class="n" x="681" y="813">PBC</text>
<use href="#L30" x="644" y="798"/><use href="#L30" x="644" y="820"/>
<text class="o"><tspan x="644" y="800.5">BC</tspan><tspan x="644" y="822.5">BC2</tspan></text>
<text class="es"><tspan x="614" y="799.4">e11</tspan><tspan x="614" y="821.4">e12</tspan></text>
<text class="v"><tspan x="614" y="791">.55</tspan><tspan x="629" y="796">1</tspan><tspan x="614" y="813">.60</tspan><tspan x="629" y="818">1</tspan><tspan x="665" y="801">1.37</tspan><tspan x="664" y="820">1.00</tspan><tspan x="684" y="795">.3</tspan></text></g>
<g id="p4-INT"><ellipse class="lat" cx="871" cy="634" rx="14" ry="13"/><text class="n" x="871" y="637">INT</text>
<use href="#R30" x="908" y="609"/><use href="#R30" x="908" y="634"/><use href="#R30" x="908" y="659"/>
<text class="o"><tspan x="908" y="611.5">INT</tspan><tspan x="908" y="636.5">INT</tspan><tspan x="908" y="661.5">INT</tspan></text>
<text class="es"><tspan x="938" y="610.4">e13</tspan><tspan x="938" y="635.4">e14</tspan><tspan x="938" y="660.4">e15</tspan></text>
<text class="v"><tspan x="939" y="600">.25</tspan><tspan x="923" y="607">1</tspan><tspan x="939" y="625">.47</tspan><tspan x="923" y="632">1</tspan><tspan x="939" y="650">.44</tspan><tspan x="923" y="657">1</tspan><tspan x="888" y="613">1.00</tspan><tspan x="888" y="631">.67</tspan><tspan x="889" y="651">.86</tspan></text></g>
<text class="t" x="1049" y="838">TPB +PN</text>

<!-- P5 TPB+HB+CO -->
<g id="p5-INT"><use href="#U30" x="173" y="915"/><use href="#U30" x="195" y="915"/><use href="#U30" x="218" y="915"/>
<ellipse class="lat" cx="195" cy="948" rx="13" ry="12"/><text class="n" x="195" y="951">INT</text>
<text class="o"><tspan x="173" y="917.5">INT1</tspan><tspan x="195" y="917.5">INT2</tspan><tspan x="218" y="917.5">INT3</tspan></text>
<text class="es"><tspan x="173" y="886.4">e20</tspan><tspan x="195" y="886.4">e21</tspan><tspan x="218" y="886.4">e22</tspan></text>
<text class="v"><tspan x="173" y="876">0, .26</tspan><tspan x="195" y="876">0, .47</tspan><tspan x="218" y="876">0, .44</tspan><tspan x="179" y="903">.28</tspan><tspan x="201" y="903">.06</tspan><tspan x="224" y="903">.40</tspan><tspan x="180" y="933">1.00</tspan></text></g>
<g id="p5-SN"><ellipse class="lat" cx="94" cy="1017" rx="13" ry="12"/><text class="n" x="94" y="1020">SN</text>
<use href="#L26" x="64" y="978"/><use href="#L26" x="64" y="1006"/><use href="#L26" x="64" y="1031"/><use href="#L26" x="64" y="1056"/>
<text class="o"><tspan x="64" y="980.5">SN</tspan><tspan x="64" y="1008.5">SN</tspan><tspan x="64" y="1033.5">SN</tspan><tspan x="64" y="1058.5">SN</tspan></text>
<text class="es"><tspan x="38" y="979.4">e7</tspan><tspan x="38" y="1007.4">e8</tspan><tspan x="38" y="1032.4">e9</tspan><tspan x="38" y="1057.4">e10</tspan></text>
<text class="v"><tspan x="38" y="971">0, .75</tspan><tspan x="64" y="971">2.45</tspan><tspan x="51" y="976">1</tspan><tspan x="38" y="999">0, .64</tspan><tspan x="64" y="999">2.54</tspan><tspan x="51" y="1004">1</tspan><tspan x="38" y="1024">0, .79</tspan><tspan x="64" y="1024">2.08</tspan><tspan x="51" y="1029">1</tspan><tspan x="38" y="1049">0, .68</tspan><tspan x="64" y="1049">2.50</tspan><tspan x="51" y="1054">1</tspan><tspan x="80" y="992">.92</tspan><tspan x="79" y="1009">1.18</tspan><tspan x="79" y="1034">.90</tspan><tspan x="99" y="1001">0, .74</tspan></text></g>
<g id="p5-HB"><ellipse class="lat" cx="308" cy="1017" rx="13" ry="12"/><text class="n" x="308" y="1020">HB</text>
<use href="#R26" x="339" y="978"/><use href="#R26" x="339" y="1004"/><use href="#R26" x="339" y="1029"/><use href="#R26" x="339" y="1054"/>
<text class="o"><tspan x="339" y="980.5">HB</tspan><tspan x="339" y="1006.5">HB</tspan><tspan x="339" y="1031.5">HB</tspan><tspan x="339" y="1056.5">HB</tspan></text>
<text class="es"><tspan x="365" y="979.4">e11</tspan><tspan x="365" y="1005.4">e12</tspan><tspan x="365" y="1030.4">e13</tspan><tspan x="365" y="1055.4">e14</tspan></text>
<text class="v"><tspan x="339" y="971">2.48</tspan><tspan x="365" y="971">0, 1.14</tspan><tspan x="352" y="976">1</tspan><tspan x="339" y="997">2.89</tspan><tspan x="365" y="997">0, .55</tspan><tspan x="352" y="1002">1</tspan><tspan x="339" y="1022">3.24</tspan><tspan x="365" y="1022">0, .83</tspan><tspan x="352" y="1027">1</tspan><tspan x="339" y="1047">3.16</tspan><tspan x="365" y="1047">0, 1.62</tspan><tspan x="352" y="1052">1</tspan><tspan x="323" y="991">1.09</tspan><tspan x="323" y="1040">1.39</tspan><tspan x="304" y="1001">0, .86</tspan></text></g>
<g id="p5-PBC"><use href="#U30" x="182" y="1068"/><use href="#U30" x="206" y="1068"/>
<ellipse class="lat" cx="197" cy="1103" rx="13" ry="12"/><text class="n" x="197" y="1106">PBC</text>
<text class="o"><tspan x="182" y="1070.5">PBC1</tspan><tspan x="206" y="1070.5">PBC2</tspan></text>
<text class="es"><tspan x="182" y="1039.4">e18</tspan><tspan x="206" y="1039.4">e19</tspan></text>
<text class="v"><tspan x="182" y="1030">0, .58</tspan><tspan x="207" y="1030">0, .59</tspan><tspan x="188" y="1056">.30</tspan><tspan x="212" y="1056">.90</tspan></text></g>
<g id="p5-AT"><ellipse class="lat" cx="98" cy="1140" rx="13" ry="12"/><text class="n" x="98" y="1143">AT</text>
<use href="#L28" x="68" y="1117"/><use href="#L28" x="68" y="1137"/><use href="#L28" x="68" y="1158"/>
<text class="o"><tspan x="68" y="1119.5">AT</tspan><tspan x="68" y="1139.5">AT</tspan><tspan x="68" y="1160.5">AT</tspan></text>
<text class="es"><tspan x="40" y="1118.4">e1</tspan><tspan x="40" y="1138.4">e2</tspan><tspan x="40" y="1159.4">e3</tspan></text>
<text class="v"><tspan x="40" y="1110">0, .73</tspan><tspan x="68" y="1110">2.24</tspan><tspan x="54" y="1115">1</tspan><tspan x="40" y="1130">0, .48</tspan><tspan x="68" y="1130">2.13</tspan><tspan x="54" y="1135">1</tspan><tspan x="40" y="1151">0, .31</tspan><tspan x="68" y="1151">2.20</tspan><tspan x="54" y="1156">1</tspan><tspan x="83" y="1133">.93</tspan><tspan x="82" y="1156">1.00</tspan><tspan x="106" y="1125">0, .87</tspan></text></g>
<g id="p5-PN"><ellipse class="lat" cx="307" cy="1133" rx="13" ry="12"/><text class="n" x="307" y="1136">PN</text>
<use href="#R26" x="340" y="1112"/><use href="#R26" x="340" y="1133"/><use href="#R26" x="340" y="1154"/>
<text class="o"><tspan x="340" y="1114.5">PN</tspan><tspan x="340" y="1135.5">PN</tspan><tspan x="340" y="1156.5">PN</tspan></text>
<text class="es"><tspan x="366" y="1113.4">e4</tspan><tspan x="366" y="1134.4">e5</tspan><tspan x="366" y="1155.4">e6</tspan></text>
<text class="v"><tspan x="340" y="1105">2.11</tspan><tspan x="366" y="1105">0, .88</tspan><tspan x="353" y="1110">1</tspan><tspan x="340" y="1126">2.19</tspan><tspan x="366" y="1126">0, .44</tspan><tspan x="353" y="1131">1</tspan><tspan x="340" y="1147">2.21</tspan><tspan x="366" y="1147">0, .43</tspan><tspan x="353" y="1152">1</tspan><tspan x="322" y="1117">1.00</tspan><tspan x="324" y="1131">1.49</tspan><tspan x="323" y="1152">2.25</tspan></text></g>
<g id="p5-CO"><use href="#D30" x="180" y="1252"/><use href="#D30" x="198" y="1252"/><use href="#D30" x="216" y="1252"/>
<ellipse class="lat" cx="197" cy="1210" rx="13" ry="12"/><text class="n" x="197" y="1213">CO</text>
<text class="o"><tspan x="180" y="1254.5">CO1</tspan><tspan x="198" y="1254.5">CO2</tspan><tspan x="216" y="1254.5">CO3</tspan></text>
<text class="es"><tspan x="180" y="1283.4">e15</tspan><tspan x="198" y="1283.4">e16</tspan><tspan x="216" y="1283.4">e17</tspan></text>
<text class="v"><tspan x="206" y="1195">0, .58</tspan><tspan x="176" y="1238">.24</tspan><tspan x="203" y="1240">1.08</tspan><tspan x="223" y="1238">.16</tspan><tspan x="186" y="1272">.86</tspan><tspan x="204" y="1272">.43</tspan><tspan x="222" y="1272">.76</tspan></text></g>
<text class="t" x="468" y="1297">TPB+HB+CO</text>

<!-- P6 TPB+HB+CO+PN -->
<g id="p6-INT"><use href="#U30" x="727" y="925"/><use href="#U30" x="747" y="925"/><use href="#U30" x="766" y="925"/>
<ellipse class="lat" cx="748" cy="962" rx="13" ry="12"/><text class="n" x="748" y="965">INT</text>
<text class="o"><tspan x="727" y="927.5">INT1</tspan><tspan x="747" y="927.5">INT2</tspan><tspan x="766" y="927.5">INT3</tspan></text>
<text class="es"><tspan x="727" y="896.4">e18</tspan><tspan x="747" y="896.4">e19</tspan><tspan x="766" y="896.4">e20</tspan></text>
<text class="v"><tspan x="727" y="886">0, .26</tspan><tspan x="747" y="886">0, .48</tspan><tspan x="767" y="886">0, .43</tspan><tspan x="732" y="913">.28</tspan><tspan x="752" y="913">.06</tspan><tspan x="771" y="913">.40</tspan></text></g>
<g id="p6-SN"><ellipse class="lat" cx="645" cy="1069" rx="13" ry="12"/><text class="n" x="645" y="1072">SN</text>
<use href="#L22" x="619" y="1028"/><use href="#L22" x="619" y="1055"/><use href="#L22" x="619" y="1082"/><use href="#L22" x="619" y="1108"/>
<text class="o"><tspan x="619" y="1030.5">SN</tspan><tspan x="619" y="1057.5">SN</tspan><tspan x="619" y="1084.5">SN</tspan><tspan x="619" y="1110.5">SN</tspan></text>
<text class="es"><tspan x="597" y="1029.4">e4</tspan><tspan x="597" y="1056.4">e5</tspan><tspan x="597" y="1083.4">e6</tspan><tspan x="597" y="1109.4">e7</tspan></text>
<text class="v"><tspan x="597" y="1021">0, .76</tspan><tspan x="622" y="1021">2.45</tspan><tspan x="597" y="1048">0, .63</tspan><tspan x="622" y="1048">2.54</tspan><tspan x="597" y="1075">0, .79</tspan><tspan x="622" y="1075">2.08</tspan><tspan x="597" y="1101">0, .67</tspan><tspan x="622" y="1101">2.50</tspan><tspan x="635" y="1041">.91</tspan><tspan x="651" y="1053">0, .75</tspan></text></g>
<g id="p6-HB"><ellipse class="lat" cx="857" cy="1071" rx="13" ry="12"/><text class="n" x="857" y="1074">HB</text>
<use href="#R22" x="882" y="1031"/><use href="#R22" x="882" y="1057"/><use href="#R22" x="882" y="1084"/><use href="#R22" x="882" y="1112"/>
<text class="o"><tspan x="882" y="1033.5">HB</tspan><tspan x="882" y="1059.5">HB</tspan><tspan x="882" y="1086.5">HB</tspan><tspan x="882" y="1114.5">HB</tspan></text>
<text class="es"><tspan x="904" y="1032.4">e8</tspan><tspan x="904" y="1058.4">e9</tspan><tspan x="904" y="1085.4">e10</tspan><tspan x="904" y="1113.4">e11</tspan></text>
<text class="v"><tspan x="880" y="1024">2.48</tspan><tspan x="907" y="1024">0, 1.14</tspan><tspan x="880" y="1050">2.89</tspan><tspan x="907" y="1050">0, .55</tspan><tspan x="880" y="1077">3.24</tspan><tspan x="907" y="1077">0, .83</tspan><tspan x="880" y="1105">3.16</tspan><tspan x="907" y="1105">0, 1.62</tspan><tspan x="852" y="1055">0, .86</tspan><tspan x="866" y="1043">1.09</tspan></text></g>
<g id="p6-AT"><use href="#D30" x="659" y="1202"/><use href="#D30" x="679" y="1202"/><use href="#D30" x="698" y="1202"/>
<ellipse class="lat" cx="678" cy="1163" rx="13" ry="12"/><text class="n" x="678" y="1166">AT</text>
<text class="o"><tspan x="659" y="1204.5">AT</tspan><tspan x="679" y="1204.5">AT3</tspan><tspan x="698" y="1204.5">AT4</tspan></text>
<text class="es"><tspan x="659" y="1233.4">e1</tspan><tspan x="679" y="1233.4">e2</tspan><tspan x="698" y="1233.4">e3</tspan></text>
<text class="v"><tspan x="684" y="1148">0, .87</tspan><tspan x="656" y="1190">2.05</tspan><tspan x="707" y="1190">.21</tspan><tspan x="663" y="1221">.73</tspan><tspan x="683" y="1221">.47</tspan><tspan x="702" y="1221">.32</tspan></text></g>
<g id="p6-PN"><use href="#D30" x="726" y="1232"/><use href="#D30" x="745" y="1232"/><use href="#D30" x="764" y="1232"/>
<ellipse class="lat" cx="744" cy="1195" rx="13" ry="12"/><text class="n" x="744" y="1198">PN</text>
<text class="o"><tspan x="726" y="1234.5">PN1</tspan><tspan x="745" y="1234.5">PN2</tspan><tspan x="764" y="1234.5">PN3</tspan></text>
<text class="es"><tspan x="726" y="1263.4">e15</tspan><tspan x="745" y="1263.4">e16</tspan><tspan x="764" y="1263.4">e17</tspan></text>
<text class="v"><tspan x="722" y="1219">2.44</tspan><tspan x="771" y="1219">.71</tspan><tspan x="731" y="1251">.80</tspan><tspan x="750" y="1251">.44</tspan><tspan x="769" y="1251">.42</tspan></text></g>
<g id="p6-CO"><use href="#D30" x="802" y="1203"/><use href="#D30" x="822" y="1203"/><use href="#D30" x="840" y="1203"/>
<ellipse class="lat" cx="821" cy="1166" rx="13" ry="12"/><text class="n" x="821" y="1169">CO</text>
<text class="o"><tspan x="802" y="1205.5">CO1</tspan><tspan x="822" y="1205.5">CO2</tspan><tspan x="840" y="1205.5">CO3</tspan></text>
<text class="es"><tspan x="802" y="1234.4">e12</tspan><tspan x="822" y="1234.4">e13</tspan><tspan x="840" y="1234.4">e14</tspan></text>
<text class="v"><tspan x="832" y="1151">0, .57</tspan><tspan x="800" y="1190">.25</tspan><tspan x="849" y="1190">.16</tspan><tspan x="806" y="1222">.48</tspan><tspan x="826" y="1222">.42</tspan><tspan x="844" y="1222">.79</tspan></text></g>
<text class="t" x="587" y="1308" style="text-anchor:start">TPB+HB+CO+PN</text>

<!-- P7 TPB+NAM -->
<g id="p7-AC"><ellipse class="lat" cx="102" cy="1363" rx="13" ry="12"/><text class="n" x="102" y="1366">AC</text>
<use href="#L28" x="68" y="1341"/><use href="#L28" x="68" y="1362"/><use href="#L28" x="68" y="1383"/>
<text class="o"><tspan x="68" y="1343.5">AC</tspan><tspan x="68" y="1364.5">AC</tspan><tspan x="68" y="1385.5">AC</tspan></text>
<text class="es"><tspan x="40" y="1342.4">e1</tspan><tspan x="40" y="1363.4">e2</tspan><tspan x="40" y="1384.4">e3</tspan></text>
<text class="v"><tspan x="40" y="1334">.16</tspan><tspan x="54" y="1339">1</tspan><tspan x="40" y="1355">.22</tspan><tspan x="54" y="1360">1</tspan><tspan x="40" y="1376">.37</tspan><tspan x="54" y="1381">1</tspan><tspan x="89" y="1347">1.07</tspan><tspan x="88" y="1360">1.08</tspan><tspan x="87" y="1376">1.00</tspan><tspan x="107" y="1348">.30</tspan></text></g>
<g id="p7-AR"><ellipse class="lat" cx="105" cy="1433" rx="13" ry="12"/><text class="n" x="105" y="1436">AR</text>
<use href="#L30" x="73" y="1418"/><use href="#L30" x="73" y="1439"/><use href="#L30" x="73" y="1459"/>
<text class="o"><tspan x="73" y="1420.5">AR</tspan><tspan x="73" y="1441.5">AR</tspan><tspan x="73" y="1461.5">AR</tspan></text>
<text class="es"><tspan x="43" y="1419.4">e4</tspan><tspan x="43" y="1440.4">e5</tspan><tspan x="43" y="1460.4">e6</tspan></text>
<text class="v"><tspan x="43" y="1411">.43</tspan><tspan x="58" y="1416">1</tspan><tspan x="43" y="1432">.56</tspan><tspan x="58" y="1437">1</tspan><tspan x="43" y="1452">1.16</tspan><tspan x="58" y="1457">1</tspan><tspan x="92" y="1423">.89</tspan><tspan x="92" y="1437">1.00</tspan><tspan x="91" y="1453">1.00</tspan><tspan x="109" y="1420">1</tspan></text></g>
<g id="p7-AT"><ellipse class="lat" cx="106" cy="1506" rx="13" ry="12"/><text class="n" x="106" y="1509">AT</text>
<use href="#L28" x="72" y="1489"/><use href="#L28" x="72" y="1506"/><use href="#L28" x="72" y="1523"/>
<text class="o"><tspan x="72" y="1491.5">AT</tspan><tspan x="72" y="1508.5">AT</tspan><tspan x="72" y="1525.5">AT</tspan></text>
<text class="es"><tspan x="44" y="1490.4">e7</tspan><tspan x="44" y="1507.4">e8</tspan><tspan x="44" y="1524.4">e9</tspan></text>
<text class="v"><tspan x="44" y="1482">.74</tspan><tspan x="58" y="1487">1</tspan><tspan x="44" y="1499">.48</tspan><tspan x="58" y="1504">1</tspan><tspan x="44" y="1516">.31</tspan><tspan x="58" y="1521">1</tspan><tspan x="93" y="1493">1.05</tspan><tspan x="91" y="1504">.93</tspan><tspan x="90" y="1519">1.00</tspan></text></g>
<g id="p7-EVC"><ellipse class="lat" cx="110" cy="1559" rx="13" ry="12"/><text class="n" x="110" y="1562">EVC</text>
<use href="#L28" x="77" y="1551"/><use href="#L28" x="77" y="1567"/>
<text class="o"><tspan x="77" y="1553.5">VC</tspan><tspan x="77" y="1569.5">VC2</tspan></text>
<text class="es"><tspan x="49" y="1552.4">e10</tspan><tspan x="49" y="1568.4">e11</tspan></text>
<text class="v"><tspan x="49" y="1544">.38</tspan><tspan x="63" y="1549">1</tspan><tspan x="49" y="1560">.48</tspan><tspan x="63" y="1565">1</tspan><tspan x="96" y="1549">.89</tspan><tspan x="95" y="1566">1.00</tspan></text></g>
<g id="p7-PN"><ellipse class="lat" cx="110" cy="1611" rx="13" ry="12"/><text class="n" x="110" y="1614">PN</text>
<use href="#L28" x="77" y="1594"/><use href="#L28" x="77" y="1611"/><use href="#L28" x="77" y="1630"/>
<text class="o"><tspan x="77" y="1596.5">PN</tspan><tspan x="77" y="1613.5">PN</tspan><tspan x="77" y="1632.5">PN</tspan></text>
<text class="es"><tspan x="49" y="1595.4">e12</tspan><tspan x="49" y="1612.4">e13</tspan><tspan x="49" y="1631.4">e14</tspan></text>
<text class="v"><tspan x="49" y="1587">.84</tspan><tspan x="63" y="1592">1</tspan><tspan x="49" y="1604">.47</tspan><tspan x="63" y="1609">1</tspan><tspan x="49" y="1623">.32</tspan><tspan x="63" y="1628">1</tspan><tspan x="96" y="1597">.49</tspan><tspan x="95" y="1609">.69</tspan><tspan x="95" y="1626">1.00</tspan><tspan x="112" y="1597">1</tspan></text></g>
<g id="p7-SN"><ellipse class="lat" cx="113" cy="1679" rx="13" ry="12"/><text class="n" x="113" y="1682">SN</text>
<use href="#L26" x="78" y="1654"/><use href="#L26" x="78" y="1669"/><use href="#L26" x="78" y="1686"/><use href="#L26" x="78" y="1704"/>
<text class="o"><tspan x="78" y="1656.5">SN</tspan><tspan x="78" y="1671.5">SN</tspan><tspan x="78" y="1688.5">SN</tspan><tspan x="78" y="1706.5">SN</tspan></text>
<text class="es"><tspan x="52" y="1655.4">e15</tspan><tspan x="52" y="1670.4">e16</tspan><tspan x="52" y="1687.4">e17</tspan><tspan x="52" y="1705.4">e18</tspan></text>
<text class="v"><tspan x="52" y="1647">.77</tspan><tspan x="65" y="1652">1</tspan><tspan x="52" y="1662">.61</tspan><tspan x="65" y="1667">1</tspan><tspan x="52" y="1679">.73</tspan><tspan x="65" y="1684">1</tspan><tspan x="52" y="1697">.72</tspan><tspan x="65" y="1702">1</tspan><tspan x="100" y="1659">.93</tspan><tspan x="99" y="1670">1.22</tspan><tspan x="99" y="1684">.97</tspan><tspan x="99" y="1699">1.00</tspan></text></g>
<g id="p7-PBC"><ellipse class="lat" cx="115" cy="1746" rx="13" ry="12"/><text class="n" x="115" y="1749">PBC</text>
<use href="#L28" x="80" y="1736"/><use href="#L28" x="80" y="1756"/>
<text class="o"><tspan x="80" y="1738.5">BC</tspan><tspan x="80" y="1758.5">BC2</tspan></text>
<text class="es"><tspan x="52" y="1737.4">e19</tspan><tspan x="52" y="1757.4">e20</tspan></text>
<text class="v"><tspan x="52" y="1729">.57</tspan><tspan x="66" y="1734">1</tspan><tspan x="52" y="1749">.59</tspan><tspan x="66" y="1754">1</tspan><tspan x="99" y="1739">1.33</tspan><tspan x="99" y="1756">1.00</tspan></text></g>
<g id="p7-INT"><ellipse class="lat" cx="340" cy="1557" rx="13" ry="12"/><text class="n" x="340" y="1560">INT</text>
<use href="#R26" x="375" y="1535"/><use href="#R26" x="375" y="1557"/><use href="#R26" x="375" y="1578"/>
<text class="o"><tspan x="375" y="1537.5">INT</tspan><tspan x="375" y="1559.5">INT</tspan><tspan x="375" y="1580.5">INT</tspan></text>
<text class="es"><tspan x="401" y="1536.4">e21</tspan><tspan x="401" y="1558.4">e22</tspan><tspan x="401" y="1579.4">e23</tspan></text>
<text class="v"><tspan x="402" y="1527">.26</tspan><tspan x="388" y="1533">1</tspan><tspan x="402" y="1549">.47</tspan><tspan x="388" y="1555">1</tspan><tspan x="402" y="1570">.44</tspan><tspan x="388" y="1576">1</tspan><tspan x="357" y="1541">1.00</tspan><tspan x="357" y="1554">.67</tspan><tspan x="358" y="1573">.86</tspan></text></g>
<text class="t" x="488" y="1770">TPB+NAM</text>

<!-- P8 TPB+PMT -->
<g id="p8-INT"><use href="#U24" x="762" y="1371"/><use href="#U24" x="784" y="1371"/><use href="#U24" x="807" y="1371"/>
<ellipse class="lat" cx="784" cy="1400" rx="13" ry="12"/><text class="n" x="784" y="1403">INT</text>
<text class="o"><tspan x="762" y="1373.5">INT1</tspan><tspan x="784" y="1373.5">INT2</tspan><tspan x="807" y="1373.5">INT3</tspan></text>
<text class="es"><tspan x="762" y="1348.4">e21</tspan><tspan x="784" y="1348.4">e22</tspan><tspan x="807" y="1348.4">e23</tspan></text>
<text class="v"><tspan x="762" y="1338">0, .26</tspan><tspan x="785" y="1338">0, .47</tspan><tspan x="808" y="1338">0, .44</tspan><tspan x="768" y="1361">.28</tspan><tspan x="790" y="1361">.06</tspan><tspan x="813" y="1361">.40</tspan></text></g>
<g id="p8-AC"><ellipse class="lat" cx="666" cy="1448" rx="13" ry="12"/><text class="n" x="666" y="1451">AC</text>
<use href="#L26" x="635" y="1427"/><use href="#L26" x="635" y="1448"/><use href="#L26" x="635" y="1469"/>
<text class="o"><tspan x="635" y="1429.5">C</tspan><tspan x="635" y="1450.5">C</tspan><tspan x="635" y="1471.5">C</tspan></text>
<text class="es"><tspan x="609" y="1428.4">e1</tspan><tspan x="609" y="1449.4">e2</tspan><tspan x="609" y="1470.4">e3</tspan></text>
<text class="v"><tspan x="609" y="1420">0, .16</tspan><tspan x="635" y="1420">1.51</tspan><tspan x="622" y="1425">1</tspan><tspan x="609" y="1441">0, .22</tspan><tspan x="635" y="1441">1.48</tspan><tspan x="622" y="1446">1</tspan><tspan x="609" y="1462">0, .32</tspan><tspan x="635" y="1462">1.20</tspan><tspan x="622" y="1467">1</tspan><tspan x="652" y="1435">1.08</tspan><tspan x="653" y="1446">1.08</tspan><tspan x="652" y="1463">1.00</tspan><tspan x="674" y="1434">0, .29</tspan></text></g>
<g id="p8-RC"><ellipse class="lat" cx="903" cy="1448" rx="13" ry="12"/><text class="n" x="903" y="1451">RC</text>
<use href="#R26" x="935" y="1427"/><use href="#R26" x="935" y="1448"/><use href="#R26" x="935" y="1469"/>
<text class="o"><tspan x="935" y="1429.5">C</tspan><tspan x="935" y="1450.5">C</tspan><tspan x="935" y="1471.5">C</tspan></text>
<text class="es"><tspan x="961" y="1428.4">e18</tspan><tspan x="961" y="1449.4">e19</tspan><tspan x="961" y="1470.4">e20</tspan></text>
<text class="v"><tspan x="935" y="1420">2.73</tspan><tspan x="962" y="1420">0, .84</tspan><tspan x="948" y="1425">1</tspan><tspan x="935" y="1441">2.76</tspan><tspan x="962" y="1441">0, .86</tspan><tspan x="948" y="1446">1</tspan><tspan x="935" y="1462">3.13</tspan><tspan x="963" y="1462">0, 1.28</tspan><tspan x="948" y="1467">1</tspan><tspan x="917" y="1433">1.00</tspan><tspan x="917" y="1446">1.04</tspan><tspan x="918" y="1462">1.13</tspan></text></g>
<g id="p8-AT"><ellipse class="lat" cx="673" cy="1554" rx="13" ry="12"/><text class="n" x="673" y="1557">AT</text>
<use href="#L26" x="641" y="1533"/><use href="#L26" x="641" y="1553"/><use href="#L26" x="641" y="1574"/>
<text class="o"><tspan x="641" y="1535.5">T</tspan><tspan x="641" y="1555.5">T</tspan><tspan x="641" y="1576.5">T</tspan></text>
<text class="es"><tspan x="615" y="1534.4">e4</tspan><tspan x="615" y="1554.4">e5</tspan><tspan x="615" y="1575.4">e6</tspan></text>
<text class="v"><tspan x="615" y="1526">0, .71</tspan><tspan x="641" y="1526">2.24</tspan><tspan x="628" y="1531">1</tspan><tspan x="615" y="1546">0, .42</tspan><tspan x="641" y="1546">2.13</tspan><tspan x="628" y="1551">1</tspan><tspan x="615" y="1567">0, .33</tspan><tspan x="641" y="1567">2.20</tspan><tspan x="628" y="1572">1</tspan><tspan x="658" y="1540">1.07</tspan><tspan x="657" y="1551">.94</tspan><tspan x="657" y="1569">1.00</tspan><tspan x="685" y="1540">.86</tspan></text></g>
<g id="p8-PBC"><ellipse class="lat" cx="905" cy="1553" rx="13" ry="12"/><text class="n" x="905" y="1556">PBC</text>
<use href="#R26" x="937" y="1542"/><use href="#R26" x="937" y="1563"/>
<text class="o"><tspan x="937" y="1544.5">BC</tspan><tspan x="937" y="1565.5">BC</tspan></text>
<text class="es"><tspan x="963" y="1543.4">e16</tspan><tspan x="963" y="1564.4">e17</tspan></text>
<text class="v"><tspan x="937" y="1535">2.30</tspan><tspan x="964" y="1535">0, .57</tspan><tspan x="950" y="1540">1</tspan><tspan x="937" y="1556">1.90</tspan><tspan x="964" y="1556">0, .59</tspan><tspan x="950" y="1561">1</tspan><tspan x="918" y="1543">.89</tspan><tspan x="919" y="1567">.73</tspan></text></g>
<g id="p8-PV"><ellipse class="lat" cx="675" cy="1656" rx="13" ry="12"/><text class="n" x="675" y="1659">PV</text>
<use href="#L26" x="642" y="1636"/><use href="#L26" x="642" y="1656"/><use href="#L26" x="642" y="1678"/>
<text class="o"><tspan x="642" y="1638.5">V</tspan><tspan x="642" y="1658.5">V</tspan><tspan x="642" y="1680.5">V</tspan></text>
<text class="es"><tspan x="616" y="1637.4">e10</tspan><tspan x="616" y="1657.4">e11</tspan><tspan x="616" y="1679.4">e12</tspan></text>
<text class="v"><tspan x="616" y="1629">0, .37</tspan><tspan x="642" y="1629">1.90</tspan><tspan x="629" y="1634">1</tspan><tspan x="616" y="1649">0, .33</tspan><tspan x="642" y="1649">1.93</tspan><tspan x="629" y="1654">1</tspan><tspan x="616" y="1671">0, .44</tspan><tspan x="642" y="1671">2.06</tspan><tspan x="629" y="1676">1</tspan><tspan x="660" y="1642">.88</tspan><tspan x="660" y="1655">1.18</tspan><tspan x="659" y="1671">1.00</tspan><tspan x="676" y="1641">0</tspan></text></g>
<g id="p8-SN"><ellipse class="lat" cx="907" cy="1656" rx="13" ry="12"/><text class="n" x="907" y="1659">SN</text>
<use href="#R26" x="941" y="1624"/><use href="#R26" x="941" y="1644"/><use href="#R26" x="941" y="1664"/><use href="#R26" x="941" y="1686"/>
<text class="o"><tspan x="941" y="1626.5">N</tspan><tspan x="941" y="1646.5">N</tspan><tspan x="941" y="1666.5">N</tspan><tspan x="941" y="1688.5">N</tspan></text>
<text class="es"><tspan x="967" y="1625.4">e7</tspan><tspan x="967" y="1645.4">e8</tspan><tspan x="967" y="1665.4">e9</tspan><tspan x="967" y="1687.4">e13</tspan></text>
<text class="v"><tspan x="941" y="1617">2.45</tspan><tspan x="968" y="1617">0, .78</tspan><tspan x="954" y="1622">1</tspan><tspan x="941" y="1637">2.54</tspan><tspan x="968" y="1637">0, .60</tspan><tspan x="954" y="1642">1</tspan><tspan x="941" y="1657">2.08</tspan><tspan x="968" y="1657">0, .70</tspan><tspan x="954" y="1662">1</tspan><tspan x="941" y="1679">2.50</tspan><tspan x="968" y="1679">0, .74</tspan><tspan x="954" y="1684">1</tspan><tspan x="924" y="1636">1.00</tspan><tspan x="925" y="1666">1.07</tspan></text></g>
<g id="p8-RE"><use href="#D22" x="782" y="1733"/><use href="#D22" x="805" y="1733"/>
<ellipse class="lat" cx="792" cy="1704" rx="13" ry="12"/><text class="n" x="792" y="1707">RE</text>
<text class="o"><tspan x="782" y="1735.5">RE1</tspan><tspan x="805" y="1735.5">RE2</tspan></text>
<text class="es"><tspan x="782" y="1756.4">e14</tspan><tspan x="805" y="1756.4">e15</tspan></text>
<text class="v"><tspan x="781" y="1721">2.20</tspan><tspan x="813" y="1721">.86</tspan><tspan x="791" y="1750">.75</tspan><tspan x="815" y="1750">.82</tspan></text></g>
<text class="t" x="1060" y="1770">TPB+PMT</text>
</svg>
